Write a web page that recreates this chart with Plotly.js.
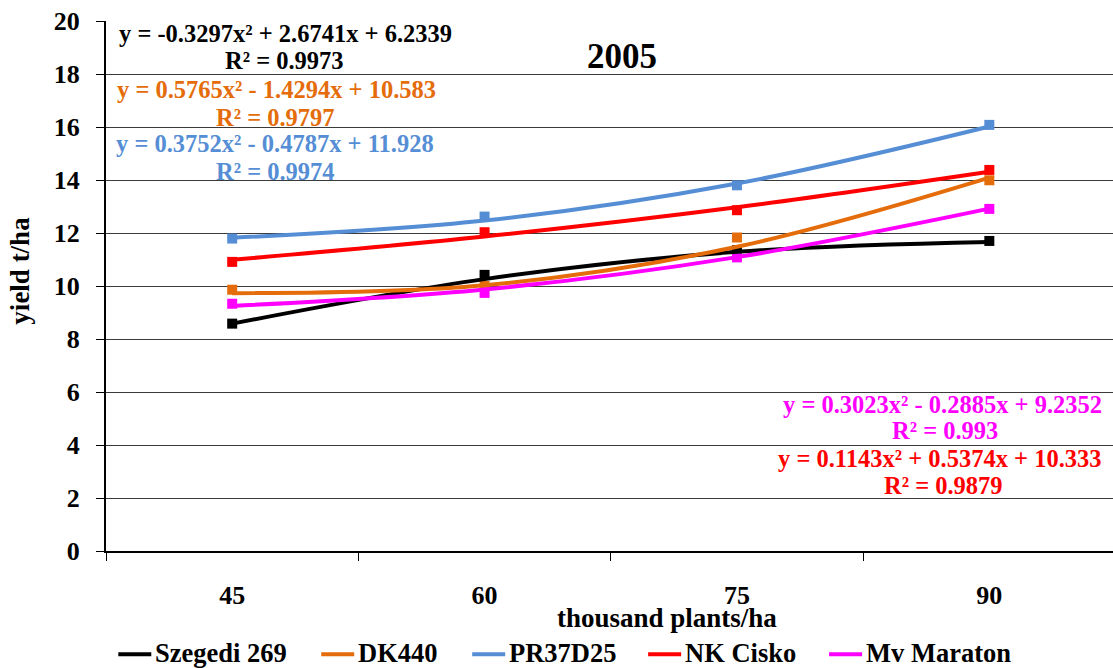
<!DOCTYPE html>
<html>
<head>
<meta charset="utf-8">
<script src="https://cdn.plot.ly/plotly-3.0.1.min.js"></script>
<style>html,body{margin:0;padding:0;background:#fff;}#chart{width:1113px;height:668px;}</style>
</head>
<body>
<div id="chart"></div>
<script>
// Categories (thousand plants/ha)
const categories = ['45', '60', '75', '90'];
const seriesNames = ['Szegedi 269', 'DK440', 'PR37D25', 'NK Cisko', 'Mv Maraton'];
const seriesColors = ['#000000', '#E46C0A', '#558ED5', '#FF0000', '#FF00FF'];

const szegedi269 = [8.58, 10.42, 11.35, 11.70];
const dk440      = [9.86, 10.00, 11.83, 13.99];
const pr37d25    = [11.79, 12.62, 13.80, 16.08];
const nkCisko    = [10.91, 12.03, 12.86, 14.38];
const mvMaraton  = [9.33, 9.74, 11.08, 12.91];

// Trendline values at each category
const trendSzegedi = [8.58, 10.26, 11.29, 11.66];
const trendDk440   = [9.73, 10.03, 11.48, 14.09];
const trendPr37    = [11.82, 12.47, 13.87, 16.02];
const trendNk      = [10.99, 11.87, 12.97, 14.31];
const trendMv      = [9.25, 9.87, 11.09, 12.92];

// Trendline equation labels (equation, R²) per series
const eqText = [
  'y = -0.3297x² + 2.6741x + 6.2339',
  'y = 0.5765x² - 1.4294x + 10.583',
  'y = 0.3752x² - 0.4787x + 11.928',
  'y = 0.1143x² + 0.5374x + 10.333',
  'y = 0.3023x² - 0.2885x + 9.2352'
];
const r2Text = ['R² = 0.9973', 'R² = 0.9797', 'R² = 0.9974', 'R² = 0.9879', 'R² = 0.993'];

const values = [szegedi269, dk440, pr37d25, nkCisko, mvMaraton];
const trends = [trendSzegedi, trendDk440, trendPr37, trendNk, trendMv];

const FONT = 'Liberation Serif';
const traces = [];
values.forEach((v, i) => {
  traces.push({
    x: categories, y: v, type: 'scatter', mode: 'markers', name: seriesNames[i],
    marker: {symbol: 'square', size: 10, color: seriesColors[i]},
    showlegend: false, hoverinfo: 'skip'
  });
});
trends.forEach((t, i) => {
  traces.push({
    x: categories, y: t, type: 'scatter', mode: 'lines', name: seriesNames[i],
    line: {color: seriesColors[i], width: 4, shape: 'spline', smoothing: 1},
    showlegend: false, hoverinfo: 'skip'
  });
});

// pixel -> paper helpers (plot area: x 105.7..1113, y 20.7..550.7)
const L = 105.7, R = 1113, T = 20.7, B = 550.7;
const px = x => (x - L) / (R - L);
const py = y => (B - y) / (B - T);

function ann(text, x, y, color, size, extra) {
  return Object.assign({
    text: '<b>' + text + '</b>', x: px(x), y: py(y), xref: 'paper', yref: 'paper',
    showarrow: false, align: 'center', xanchor: 'center', yanchor: 'middle',
    font: {family: FONT, size: size, color: color}
  }, extra || {});
}

const EQ = 24.5;
const annotations = [
  ann(eqText[0], 285, 33, seriesColors[0], EQ), ann(r2Text[0], 284, 60, seriesColors[0], EQ),
  ann(eqText[1], 276, 89, seriesColors[1], EQ), ann(r2Text[1], 275, 117, seriesColors[1], EQ),
  ann(eqText[2], 275, 143, seriesColors[2], EQ), ann(r2Text[2], 275, 171, seriesColors[2], EQ),
  ann(eqText[4], 942, 404, seriesColors[4], EQ), ann(r2Text[4], 945, 430, seriesColors[4], EQ),
  ann(eqText[3], 940, 458, seriesColors[3], EQ), ann(r2Text[3], 943, 485, seriesColors[3], EQ),
  ann('2005', 622, 56, '#000', 35),
  ann('thousand plants/ha', 667, 618, '#000', 27),
  ann('yield t/ha', 20, 270, '#000', 27, {textangle: -90})
];

// Manual legend: line sample + label for each series
const legendLineX = [118, 321, 472, 648, 829];
const legendY = 653;
const shapes = [];
seriesNames.forEach((n, i) => {
  shapes.push({
    type: 'line', xref: 'paper', yref: 'paper',
    x0: px(legendLineX[i]), x1: px(legendLineX[i] + 33), y0: py(legendY + 1), y1: py(legendY + 1),
    line: {color: seriesColors[i], width: 4}
  });
  annotations.push(ann(n, legendLineX[i] + 35, legendY, '#000', 26.5, {xanchor: 'left'}));
});

const layout = {
  width: 1113, height: 668,
  margin: {l: 105.7, r: 0, t: 20.7, b: 117.3, autoexpand: false},
  paper_bgcolor: '#fff', plot_bgcolor: '#fff',
  font: {family: FONT, color: '#000'},
  showlegend: false,
  xaxis: {
    type: 'category', range: [-0.5, 3.49], fixedrange: true,
    showline: true, linecolor: '#000', linewidth: 2,
    ticks: 'outside', ticklen: 8, tickcolor: '#000', tickwidth: 1,
    tickson: 'boundaries', showgrid: false, zeroline: false,
    ticklabelstandoff: 20,
    tickfont: {family: FONT, size: 26, color: '#000', weight: 'bold'}
  },
  yaxis: {
    range: [0, 20], dtick: 2, fixedrange: true,
    showline: true, linecolor: '#000', linewidth: 2,
    ticks: 'outside', ticklen: 8, tickcolor: '#000', tickwidth: 1,
    showgrid: true, gridcolor: '#3a3a3a', gridwidth: 1, zeroline: false,
    ticklabelstandoff: 11,
    tickfont: {family: FONT, size: 26, color: '#000', weight: 'bold'}
  },
  annotations: annotations,
  shapes: shapes
};

Plotly.newPlot('chart', traces, layout, {displayModeBar: false, staticPlot: true});
</script>
</body>
</html>
